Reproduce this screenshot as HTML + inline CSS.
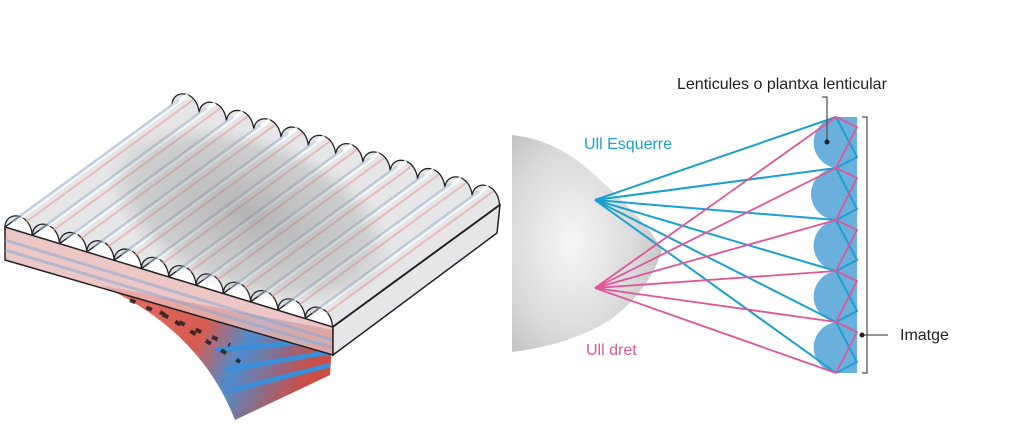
<!DOCTYPE html>
<html><head><meta charset="utf-8"><style>
html,body{margin:0;padding:0;background:#fff;width:1024px;height:425px;overflow:hidden}
svg{display:block}
text{font-family:"Liberation Sans",sans-serif}
</style></head><body>
<svg width="1024" height="425" viewBox="0 0 1024 425" xmlns="http://www.w3.org/2000/svg">
<defs>
<linearGradient id="img" x1="0" y1="0" x2="1" y2="0.3">
<stop offset="0" stop-color="#e46050"/><stop offset="0.5" stop-color="#d24a3e"/><stop offset="0.7" stop-color="#3a7fc8"/><stop offset="1" stop-color="#c43a30"/>
</linearGradient>
<radialGradient id="head" cx="0.4" cy="0.5" r="0.7">
<stop offset="0" stop-color="#f6f6f6"/><stop offset="0.6" stop-color="#dadada"/><stop offset="1" stop-color="#bcbcbc"/>
</radialGradient>
<radialGradient id="shade" cx="0.5" cy="0.5" r="0.5">
<stop offset="0" stop-color="#777" stop-opacity="0.45"/><stop offset="0.8" stop-color="#888" stop-opacity="0.25"/><stop offset="1" stop-color="#999" stop-opacity="0"/>
</radialGradient>
<g id="r">
<path d="M5,227 C5,211 30,211 32.3,235.3 L199.3,113.3 C197,89 172,89 172,105 Z" fill="#dcdadd" fill-opacity="0.7" stroke="#222" stroke-width="1.3" stroke-linejoin="round"/>
<line x1="21" y1="217" x2="188" y2="95" stroke="#fff" stroke-width="4" opacity="0.85"/>
<line x1="26" y1="222" x2="193" y2="100" stroke="#e8a0a0" stroke-width="2" opacity="0.6"/>
<line x1="12" y1="222" x2="179" y2="100" stroke="#a8c0dc" stroke-width="3" opacity="0.5"/>
</g>
</defs>
<!-- curved printed image under sheet -->
<path d="M100,285 Q200,330 235,420 L330,375 L333,330 Z" fill="url(#img)" opacity="0.9"/>
<path d="M215,350 L330,340 M225,370 L330,352 M232,390 L330,365" stroke="#3b8fd8" stroke-width="5"/>
<path d="M130,300 L230,345 M160,312 L240,362" stroke="#1a1a1a" stroke-width="4" stroke-dasharray="6 12" opacity="0.8"/>
<!-- front face -->
<polygon points="5,227 333,327 333,355 5,260" fill="#e9b9b6" fill-opacity="0.8" stroke="#222" stroke-width="1.5"/>
<path d="M5,240 L333,340 M5,250 L333,348" stroke="#7fa8d8" stroke-width="3" opacity="0.5"/>
<!-- right face -->
<polygon points="333,327 500,205 497,233 333,355" fill="#e6e6e8" stroke="#222" stroke-width="1.5"/>
<!-- ridges -->
<use href="#r" transform="translate(0,0)"/>
<use href="#r" transform="translate(27.3,8.3)"/>
<use href="#r" transform="translate(54.6,16.6)"/>
<use href="#r" transform="translate(81.9,24.9)"/>
<use href="#r" transform="translate(109.2,33.2)"/>
<use href="#r" transform="translate(136.5,41.5)"/>
<use href="#r" transform="translate(163.8,49.8)"/>
<use href="#r" transform="translate(191.1,58.1)"/>
<use href="#r" transform="translate(218.4,66.4)"/>
<use href="#r" transform="translate(245.7,74.7)"/>
<use href="#r" transform="translate(273,83)"/>
<use href="#r" transform="translate(300.3,91.3)"/>
<ellipse cx="250" cy="215" rx="150" ry="80" transform="rotate(20 250 215)" fill="url(#shade)"/>
<!-- head -->
<path d="M512,135 Q560,140 600,180 Q650,225 662,250 Q650,290 610,320 Q570,345 512,352 Z" fill="url(#head)"/>
<!-- lenses -->
<rect x="837" y="117" width="20" height="256" fill="#6ab0dd"/>
<g fill="#6ab0dd">
<path d="M837,117 A25.6,25.6 0 0 0 837,168 Z"/>
<path d="M837,168 A25.6,25.6 0 0 0 837,220 Z"/>
<path d="M837,220 A25.6,25.6 0 0 0 837,271 Z"/>
<path d="M837,271 A25.6,25.6 0 0 0 837,322 Z"/>
<path d="M837,322 A25.6,25.6 0 0 0 837,373 Z"/>
</g>
<g stroke="#1ba0d0" stroke-width="2" fill="none">
<line x1="595" y1="200" x2="836" y2="117"/><line x1="595" y1="200" x2="836" y2="168"/><line x1="595" y1="200" x2="836" y2="220"/>
<line x1="595" y1="200" x2="836" y2="271"/><line x1="595" y1="200" x2="836" y2="322"/><line x1="595" y1="200" x2="836" y2="373"/>
<polyline points="836,117 857,157 836,168 857,209 836,220 857,260 836,271 857,311 836,322 857,362 836,373"/>
</g>
<g stroke="#e0559a" stroke-width="1.8" fill="none">
<line x1="595" y1="288" x2="836" y2="117"/><line x1="595" y1="288" x2="836" y2="168"/><line x1="595" y1="288" x2="836" y2="220"/>
<line x1="595" y1="288" x2="836" y2="271"/><line x1="595" y1="288" x2="836" y2="322"/><line x1="595" y1="288" x2="836" y2="373"/>
<polyline points="836,117 857,127 836,168 857,178 836,220 857,230 836,271 857,281 836,322 857,332 836,373"/>
</g>
<g stroke="#555" stroke-width="1.3" fill="none">
<polyline points="862,117 867,117 867,373 862,373"/>
<line x1="862" y1="335" x2="888" y2="335"/>
<polyline points="827,140 827,97 822,97"/>
</g>
<circle cx="862" cy="335" r="2.5" fill="#222"/>
<circle cx="827" cy="142" r="2.5" fill="#222"/>
<text x="677" y="89" font-size="16" fill="#222">Lenticules o plantxa lenticular</text>
<text x="584" y="149" font-size="16" fill="#1ba0d0">Ull Esquerre</text>
<text x="586" y="355" font-size="16" fill="#e0559a">Ull dret</text>
<text x="900" y="340" font-size="16" fill="#222">Imatge</text>
</svg>
</body></html>
